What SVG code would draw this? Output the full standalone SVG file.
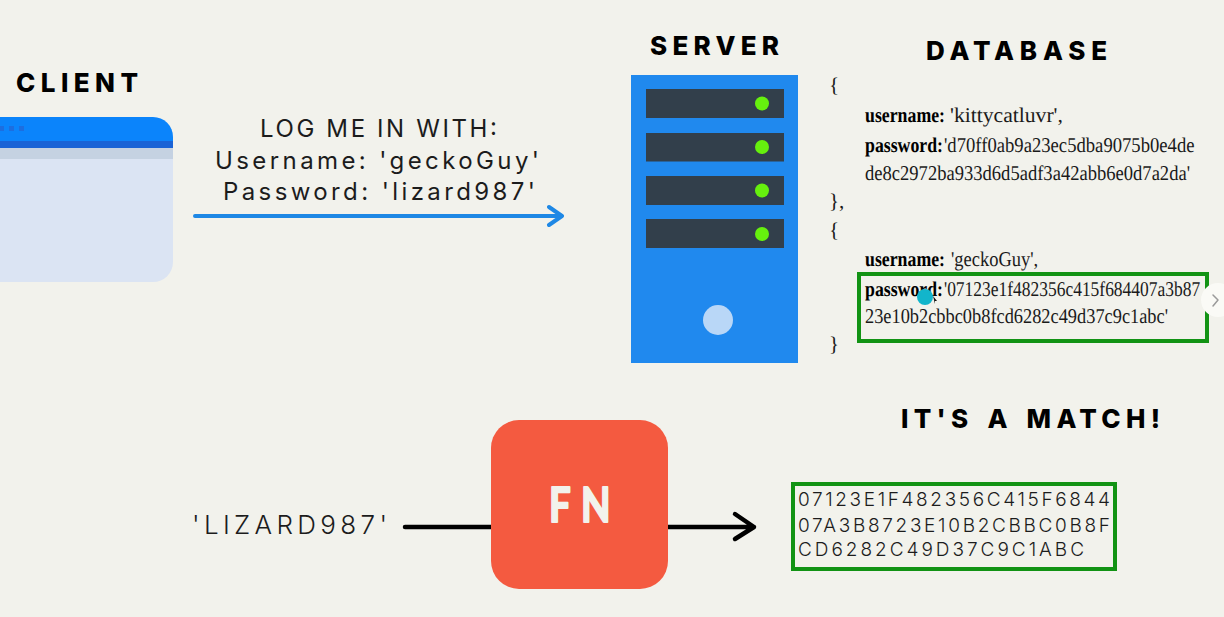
<svg xmlns="http://www.w3.org/2000/svg" width="1224" height="617" viewBox="0 0 1224 617">
<style>
.h{font-family:"Inter","Liberation Sans",sans-serif;font-weight:800;fill:#000;font-size:26px}
.s{font-family:"Inter","Liberation Sans",sans-serif;font-weight:400;fill:#1c1c1c}
.l{font-weight:300}
.c{font-family:"Liberation Serif","Times New Roman",serif;font-size:21px;fill:#1a1a1a;text-rendering:geometricPrecision}
.b{font-weight:700;fill:#000}
.line{fill:none;stroke-linecap:round;stroke-linejoin:round}
.bar{fill:#323f4b}
.led{fill:#66f00e}
.hit{fill:none;stroke:#129314;stroke-width:4}
</style>
<rect width="1224" height="617" fill="#f2f2ec"/>
<g id="client">
<text class="h" x="16" y="92" textLength="122" lengthAdjust="spacing">CLIENT</text>
<path d="M-20 117H153a20 20 0 0 1 20 20V262a20 20 0 0 1-20 20H-20Z" fill="#dbe4f3"/>
<rect x="0" y="148" width="173" height="11" fill="#c5d2e2"/>
<path d="M-20 117H153a20 20 0 0 1 20 20V148H-20Z" fill="#0b84fb"/>
<rect x="0" y="141" width="173" height="7" fill="#1a63d6"/>
<g fill="#1c6ee0"><rect x="0" y="126" width="4" height="5"/><rect x="9" y="126" width="5" height="5"/><rect x="19" y="126" width="5" height="5"/></g>
</g>
<g id="request">
<text class="s" font-size="24" x="260" y="137" textLength="237" lengthAdjust="spacing">LOG ME IN WITH:</text>
<text class="s" font-size="24" x="215" y="169" textLength="324" lengthAdjust="spacing">Username: 'geckoGuy'</text>
<text class="s" font-size="24" x="223" y="200" textLength="312" lengthAdjust="spacing">Password: 'lizard987'</text>
</g>
<g id="connectors">
<path class="line" d="M195 216H562M549 207L562 216L549 225" stroke="#1e88e5" stroke-width="4"/>
<path class="line" d="M405 527H491" stroke="#000" stroke-width="4.500"/>
<path class="line" d="M668 527H754M735 514L754 527L735 539" stroke="#000" stroke-width="4.500"/>
</g>
<g id="server">
<text class="h" x="650" y="55" textLength="129" lengthAdjust="spacing">SERVER</text>
<rect x="631" y="75" width="167" height="288" fill="#2089ee"/>
<rect class="bar" x="646" y="89" width="138" height="29"/>
<rect class="bar" x="646" y="133" width="138" height="28.500"/>
<rect class="bar" x="646" y="176" width="138" height="29"/>
<rect class="bar" x="646" y="219" width="138" height="29"/>
<circle class="led" cx="762" cy="103.500" r="7"/>
<circle class="led" cx="762" cy="147" r="7"/>
<circle class="led" cx="762" cy="190.500" r="7"/>
<circle class="led" cx="762" cy="234" r="7"/>
<circle cx="718" cy="320" r="15" fill="#b9d7f7"/>
</g>
<g id="database">
<text class="h" x="926" y="60" textLength="181" lengthAdjust="spacing">DATABASE</text>
<text class="c" x="829" y="92">{</text>
<text class="c b" transform="translate(865 122) scale(.847 1)">username:</text>
<text class="c" transform="translate(950 122) scale(1.03 1)">'kittycatluvr',</text>
<text class="c b" transform="translate(865 152) scale(.846 1)">password:</text>
<text class="c" transform="translate(944 152) scale(.888 1)">'d70ff0ab9a23ec5dba9075b0e4de</text>
<text class="c" transform="translate(865 180) scale(.884 1)">de8c2972ba933d6d5adf3a42abb6e0d7a2da'</text>
<text class="c" x="829" y="208">},</text>
<text class="c" x="829" y="237">{</text>
<text class="c b" transform="translate(865 266) scale(.847 1)">username:</text>
<text class="c" transform="translate(951 266) scale(.879 1)">'geckoGuy',</text>
<text class="c b" transform="translate(865 296) scale(.846 1)">password:</text>
<text class="c" transform="translate(944 296) scale(.831 1)">'07123e1f482356c415f684407a3b87</text>
<text class="c" transform="translate(865 323) scale(.874 1)">23e10b2cbbc0b8fcd6282c49d37c9c1abc'</text>
<text class="c" x="829" y="351">}</text>
<rect class="hit" x="859" y="274" width="348" height="67"/>
</g>
<g id="pointer">
<circle cx="925" cy="297" r="8" fill="#12b5cb"/>
<path d="M933 296l4 5-2 0 0 3z" fill="#111"/>
</g>
<g id="carousel-next">
<circle cx="1218" cy="300" r="17" fill="#fafaf6"/>
<path class="line" d="M1213 295l5 5-5 6" stroke="#9a9a9a" stroke-width="1.500"/>
</g>
<g id="function">
<text class="s l" font-size="26" x="192" y="534" textLength="195" lengthAdjust="spacing">'LIZARD987'</text>
<rect x="491" y="420" width="177" height="169" rx="28" fill="#f45a40"/>
<text transform="translate(549 522) scale(.8 1)" x="0 40" y="0" font-family="Lato,'Liberation Sans',sans-serif" font-weight="700" font-size="48" fill="#f2f2ec" stroke="#f2f2ec" stroke-width="2" stroke-linejoin="round">FN</text>
</g>
<g id="match">
<text class="h" x="901" y="428" word-spacing="3" textLength="259" lengthAdjust="spacing">IT'S A MATCH!</text>
</g>
<g id="hash">
<rect class="hit" x="793" y="484" width="322" height="85"/>
<text class="s l" font-size="19" x="798" y="506" textLength="312" lengthAdjust="spacing">07123E1F482356C415F6844</text>
<text class="s l" font-size="19" x="798" y="532" textLength="312" lengthAdjust="spacing">07A3B8723E10B2CBBC0B8F</text>
<text class="s l" font-size="19" x="798" y="556" textLength="286" lengthAdjust="spacing">CD6282C49D37C9C1ABC</text>
</g>
</svg>
